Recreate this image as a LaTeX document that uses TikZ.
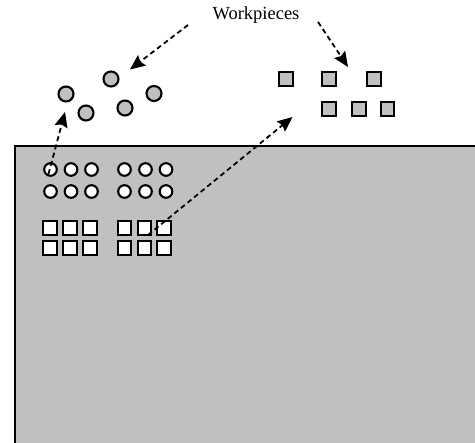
\documentclass[tikz,border=0pt]{standalone}
\usepackage{fontspec}
\setmainfont{Liberation Serif}
\usetikzlibrary{arrows.meta}
\definecolor{stock}{RGB}{192,192,192}
\begin{document}
\begin{tikzpicture}[x=1pt,y=-1pt,
  part/.style={draw=black, line width=2.1pt, fill=#1, inner sep=0pt, outer sep=0pt},
  hole/.style={part=white, circle, minimum size=12.6pt},
  pocket/.style={part=white, rectangle, minimum size=13.8pt},
  disc/.style={part=stock, circle, minimum size=15pt},
  block/.style={part=stock, rectangle, minimum size=13.6pt},
  move/.style={line width=1.8pt, dash pattern=on 5pt off 3.5pt,
    -{Stealth[length=15pt,width=13pt,inset=2pt]}},
  caption/.style={font=\fontsize{18.5}{22}\selectfont, inner sep=0pt}
]
\clip (0,0) rectangle (475,443);
% machine table
\draw[fill=stock, line width=2.2pt] (15,146) rectangle (490,460);

% fixture holes and pockets on the table
\foreach \x [count=\i] in {50.5,71,91.5,124.5,145.5,166} {
  \node[hole] (ha\i) at (\x,169.5) {};
  \node[hole] (hb\i) at (\x,191.5) {};
}
\foreach \x [count=\i] in {50.3,70,90,124.5,144.5,164} {
  \node[pocket] (pa\i) at (\x,228) {};
  \node[pocket] (pb\i) at (\x,248) {};
}

% loose workpieces
\node[disc] (g1) at (66,94) {};
\node[disc] (g2) at (111,79) {};
\node[disc] (g3) at (86,113) {};
\node[disc] (g4) at (125,108) {};
\node[disc] (g5) at (154,93.5) {};
\node[block] (s1) at (286,79) {};
\node[block] (s2) at (329,79) {};
\node[block] (s3) at (374,79) {};
\node[block] (s4) at (329,109) {};
\node[block] (s5) at (359,109) {};
\node[block] (s6) at (387.5,109) {};

% label
\node[caption, anchor=base] (lbl) at (256,20) {Workpieces};

% arrows
\coordinate (la) at (188,25);
\coordinate (lb) at (318,22);
\coordinate (ta) at (130,69.5);
\coordinate (tb) at (348,67);
\coordinate (hs) at (48.5,174);
\coordinate (ht) at (65,112);
\coordinate (ps) at (148,235);
\coordinate (pt) at (292.5,117);
\draw[move] (la) -- (ta);
\draw[move] (lb) -- (tb);
\draw[move] (hs) -- (ht);
\draw[move] (ps) -- (pt);
\end{tikzpicture}
\end{document}
